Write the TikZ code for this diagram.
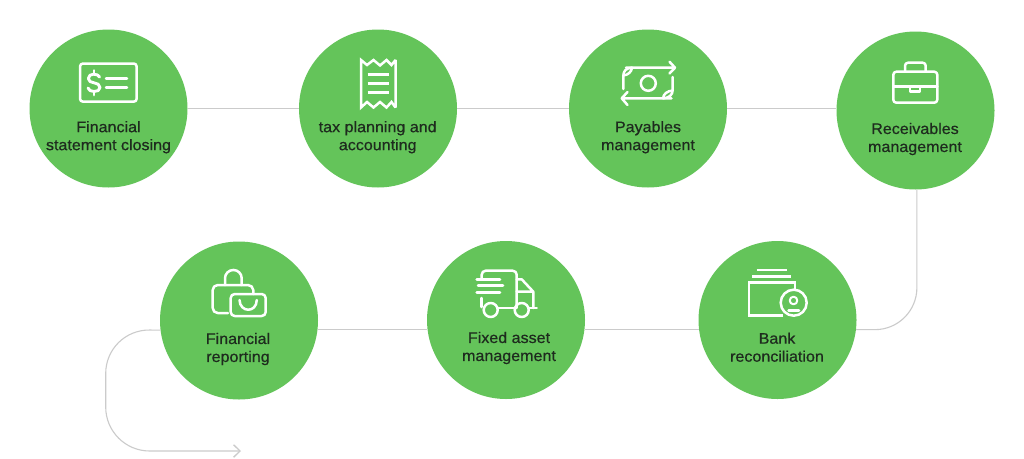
\documentclass[tikz,border=0pt]{standalone}
\usepackage{fontspec}
\setmainfont[FakeBold=0.6,FakeStretch=1.05]{Liberation Sans}
\usetikzlibrary{arrows.meta}
\definecolor{leaf}{HTML}{64C45A}
\definecolor{wire}{HTML}{CBCBCB}
\definecolor{ink}{HTML}{1E2B1E}
\tikzset{
  disc/.style={circle,fill=leaf,draw=none,minimum size=158pt,inner sep=0pt},
  caption/.style={align=center,text=ink,inner sep=0pt,font=\fontsize{15.3}{18}\selectfont},
  wireline/.style={draw=wire,line width=1.1pt},
  icon/.style={draw=white,line width=2.5pt,line cap=round,line join=round},
}
\begin{document}
\begin{tikzpicture}[x=1pt,y=-1pt]
\useasboundingbox (0,0) rectangle (1024,458);
\fill[white] (0,0) rectangle (1024,458);
\node[disc] (c1) at (108.5,108.5) {};
\node[disc] (c2) at (378,108.5) {};
\node[disc] (c3) at (648,108.5) {};
\node[disc] (c4) at (915.5,110.5) {};
\node[disc] (c5) at (239,320.5) {};
\node[disc] (c6) at (506,320) {};
\node[disc] (c7) at (777.5,320) {};
\coordinate (bendA) at (105.7,329.5);
\coordinate (bendB) at (105.7,451);
\coordinate (tip) at (241,451);
% connectors
\draw[wireline] (c1.east) -- (c2.west);
\draw[wireline] (c2.east) -- (c3.west);
\draw[wireline] (c3.east) -- (c3.east -| c4.west);
\draw[wireline,rounded corners=42pt] (c4.-89) -- (c4.-89 |- c7.-7) -- (c7.-7);
\draw[wireline] (c7.187) -- (c7.187 -| c6.-7);
\draw[wireline] (c6.187) -- (c6.187 -| c5.-7);
\draw[wireline,rounded corners=44pt,-{Straight Barb[length=6.5pt,width=12.5pt,line width=1.3pt]}] (c5.187) -- (bendA) -- (bendB) -- (tip);
% captions
\node[caption] (t1) at (108.5,137.2) {Financial\\statement closing};
\node[caption] (t2) at (377.7,137.2) {tax planning and\\accounting};
\node[caption] (t3) at (648,137.2) {Payables\\management};
\node[caption] (t4) at (915,139) {Receivables\\management};
\node[caption] (t5) at (238,349) {Financial\\reporting};
\node[caption] (t6) at (509,348) {Fixed asset\\management};
\node[caption] (t7) at (777,347.2) {Bank\\reconciliation};
% icon 1: bill
\draw[icon,rounded corners=3pt] (80,63.5) rectangle (136.7,101.7);
\draw[icon] (106,78.5) -- (127,78.5) (106,87.5) -- (127,87.5);
\draw[icon,line width=2.9pt] (99.5,77) .. controls (98.5,73.5) and (88.5,72.5) .. (88.3,78.5) .. controls (88.1,84.5) and (100,81) .. (100,87.5) .. controls (100,93) and (88.5,92.5) .. (88,88);
\draw[icon,line width=2.9pt] (94,70.5) -- (94,73) (94,92.5) -- (94,95);
% icon 2: receipt
\draw[icon,line cap=butt,line join=miter,miter limit=3] (361,60) -- (367,65) -- (373.5,60) -- (380,65.5) -- (386.5,60) -- (391.5,65) -- (395.5,60) -- (395.5,107.5) -- (391.5,102) -- (386.5,107.5) -- (380,102) -- (373.5,107.5) -- (367,102) -- (361,107.5) -- cycle;
\draw[icon,line cap=butt] (367.7,74.3) -- (389,74.3) (367.7,83.3) -- (389,83.3) (367.7,92.7) -- (389,92.7);
% icon 3: money
\draw[icon] (626,67.7) -- (675,67.7) (669.5,61.7) -- (675,67.7) -- (669.5,73.5);
\draw[icon] (671.5,98.3) -- (621.7,98.3) (627.5,92) -- (621.7,98.3) -- (627.5,105);
\draw[icon] (632,67.7) .. controls (626,68) and (623.3,71) .. (623.3,76) -- (623.3,89);
\draw[icon] (632,67.7) .. controls (631.5,72) and (628,75) .. (623.3,75.5);
\draw[icon] (663,98.3) .. controls (669,98) and (672.7,95) .. (672.7,90) -- (672.7,77);
\draw[icon] (663,98.3) .. controls (663.5,94) and (667,91) .. (672.7,90.5);
\draw[icon] (648.3,83.3) circle[radius=7.5pt];
% icon 4: briefcase
\draw[icon,rounded corners=3pt] (893.3,71.7) rectangle (937.3,102.7);
\draw[icon] (893.3,86.7) -- (910,86.7) (920,86.7) -- (937.3,86.7);
\draw[icon] (910,86.7) -- (910,91.7) -- (920,91.7) -- (920,86.7) -- cycle;
\draw[icon,rounded corners=3pt] (905,71.7) -- (905,62.7) -- (925.7,62.7) -- (925.7,71.7);
% icon 5: lock and bag
\draw[icon,rounded corners=5pt] (228,313) -- (212.7,313) -- (212.7,285) -- (253,285) -- (253.5,294);
\draw[icon] (225,285) -- (225,278.3) arc[start angle=180,end angle=0,radius=8.35pt] -- (241.7,285);
\draw[icon,rounded corners=4pt] (230.7,294) rectangle (265.7,316);
\draw[icon] (239.5,300) .. controls (240,313) and (256.5,313) .. (256.8,300);
% icon 6: truck
\draw[icon,rounded corners=4pt] (481.7,279) -- (481.7,270.7) -- (516.7,270.7) -- (516.7,308);
\draw[icon] (476.7,279.3) -- (500,279.3) (478,285.7) -- (503,285.7) (476.7,292.3) -- (500,292.3);
\draw[icon] (490.7,310) circle[radius=7pt] (521.7,310) circle[radius=7pt];
\draw[icon] (497.7,308) -- (514.7,308) (528.7,308) -- (536.7,308) (481.7,298) -- (481.7,307);
\draw[icon] (516.7,279.3) -- (521.7,279.3) -- (533.3,291.7) -- (533.3,308) (516.7,291.7) -- (533.3,291.7);
% icon 7: wallet and person
\draw[icon,line cap=butt,line width=2.8pt] (756.7,270) -- (786.7,270) (752.3,276.7) -- (790.7,276.7);
\draw[icon,line cap=butt,line join=miter] (783,315.3) -- (749,315.3) -- (749,282.3) -- (795,282.3) -- (795,290);
\draw[icon] (793.7,302.7) circle[radius=13pt];
\draw[icon,line width=2pt] (793.5,300.5) circle[radius=3.8pt];
\draw[icon] (788.5,310.5) -- (799,310.5);
\end{tikzpicture}
\end{document}
